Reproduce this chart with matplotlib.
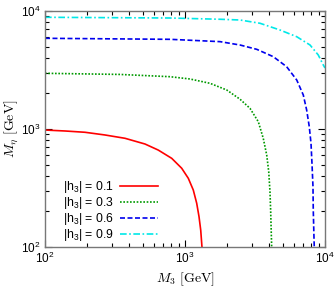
import numpy as np
import matplotlib.pyplot as plt
from matplotlib.ticker import LogLocator, NullFormatter

plt.rcParams['font.family'] = ['Liberation Sans', 'DejaVu Sans']
plt.rcParams['mathtext.fontset'] = 'custom'
plt.rcParams['mathtext.rm'] = 'Liberation Sans'
plt.rcParams['mathtext.it'] = 'Liberation Sans:italic'

# curves: M3 [GeV] -> M_eta [GeV]
m3_01 = [100, 139, 193, 268, 373, 518, 644, 804, 947, 1056, 1146, 1212, 1259, 1295, 1322]
meta_01 = [980, 962, 938, 890, 834, 746, 663, 564, 465, 382, 304, 235, 181, 139, 100]

m3_03 = [100, 343, 781, 1086, 1509, 1986, 2472, 2913, 3339, 3622, 3834, 3963, 4046, 4093, 4130, 4159]
meta_03 = [2965, 2900, 2775, 2653, 2439, 2141, 1788, 1496, 1153, 834, 602, 435, 294, 199, 135, 100]

m3_06 = [100, 781, 1778, 2472, 3251, 4273, 5321, 6281, 6998, 7395, 7722, 7943, 8072, 8207,
         8245, 8340, 8380]
meta_06 = [5870, 5755, 5500, 5150, 4736, 4100, 3373, 2602, 1942, 1449, 1045, 757, 512, 324,
           206, 122, 100]

m3_09 = [100, 781, 1778, 2472, 3434, 4770, 6281, 7817, 8953, 9724, 10000]
meta_09 = [8846, 8723, 8511, 8390, 7870, 6900, 6055, 5150, 4238, 3486, 3289]

labels = ['|h$_3$| = 0.1', '|h$_3$| = 0.3', '|h$_3$| = 0.6', '|h$_3$| = 0.9']

fig = plt.figure(figsize=(3.35, 2.88), dpi=100)
ax = fig.add_axes([45 / 335, 1 - 247 / 288, 280 / 335, 236 / 288])

ax.plot(m3_01, meta_01, color='#ff0000', lw=1.2, ls='-', label=labels[0])
ax.plot(m3_03, meta_03, color='#009900', lw=1.2, ls=(0, (1, 1)), label=labels[1])
ax.plot(m3_06, meta_06, color='#0000ee', lw=1.2, ls=(0, (3, 1.5)), label=labels[2])
ax.plot(m3_09, meta_09, color='#00e8e8', lw=1.2, ls=(0, (4, 1.5, 1, 1.5)), label=labels[3])

ax.set_xscale('log')
ax.set_yscale('log')
ax.set_xlim(100, 1e4)
ax.set_ylim(100, 1e4)

for a in (ax.xaxis, ax.yaxis):
    a.set_major_locator(LogLocator(base=10, numticks=5))
    a.set_minor_locator(LogLocator(base=10, subs=np.arange(2, 10), numticks=20))
    a.set_minor_formatter(NullFormatter())

ax.tick_params(which='both', direction='in', top=True, right=True, labelsize=8.5, pad=3)
ax.tick_params(which='major', length=5, width=0.8)
ax.tick_params(which='minor', length=3, width=0.8)
for s in ax.spines.values():
    s.set_color('#777777')
    s.set_linewidth(1.0)

ax.set_xlabel(r'$M_3\ [\mathrm{GeV}]$', fontsize=10, math_fontfamily='cm', labelpad=3)
ax.set_ylabel(r'$M_\eta\ [\mathrm{GeV}]$', fontsize=10, math_fontfamily='cm', labelpad=1)

ax.legend(loc='lower left', bbox_to_anchor=(0.035, -0.02), frameon=False, markerfirst=False,
          fontsize=8.8, handlelength=3.1, handletextpad=0.5, labelspacing=0.0,
          borderpad=0.2)

fig.savefig('out.png', dpi=100)
